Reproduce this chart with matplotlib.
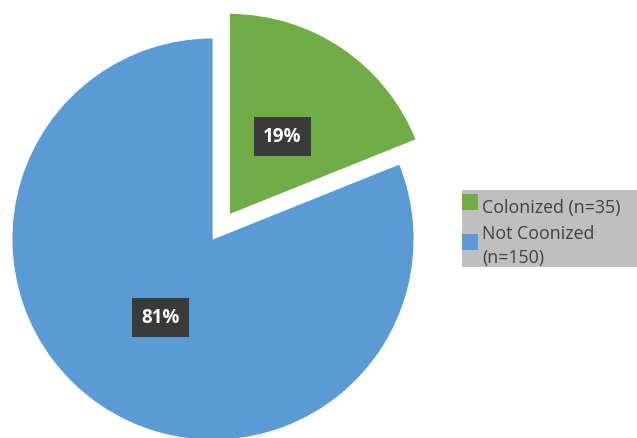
import matplotlib.pyplot as plt
from matplotlib.patches import Rectangle

labels = ["Colonized (n=35)", "Not Coonized\n(n=150)"]
counts = [35, 150]
colors = ["#70AD47", "#5B9BD5"]
explode = [0.147, 0.0]

W, H, R = 637, 439, 201.0   # pixels, radius of the pie in pixels
CX, CY = 213, 240           # centre of the pie (pixels from top-left)

fig = plt.figure(figsize=(W / 100, H / 100), dpi=100)
ax = fig.add_axes([0, 0, 1, 1])

wedges, texts, autotexts = ax.pie(
    counts, colors=colors, explode=explode, startangle=90, counterclock=False,
    autopct="%1.0f%%", pctdistance=0.47,
    wedgeprops=dict(edgecolor="white", linewidth=0.6),
    textprops=dict(color="white", fontsize=13.5, weight="bold", family="Open Sans"),
    frame=True)
ax.set_xlim(-CX / R, (W - CX) / R)
ax.set_ylim(-(H - CY) / R, CY / R)
ax.set_aspect("equal")
ax.axis("off")
for t in autotexts:
    t.set_bbox(dict(boxstyle="square,pad=0.5", fc="#3A3A3A", ec="none"))

def px(x, y):
    return (x - CX) / R, (CY - y) / R

# legend block drawn by hand (grey box on the right)
x0, y0 = px(462, 268)
ax.add_patch(Rectangle((x0, y0), (637 - 462) / R, (268 - 191) / R,
                       fc="#BFBFBF", ec="none", clip_on=False))
line_y = [[206], [232, 256]]   # centre of each text line, pixels
swatch_y = [195, 235]          # top of each swatch, pixels
for lab, col, ys, sy in zip(labels, colors, line_y, swatch_y):
    sx, syy = px(462, sy + 16)
    ax.add_patch(Rectangle((sx, syy), 16 / R, 16 / R, fc=col, ec="none"))
    for line, ly in zip(lab.split("\n"), ys):
        tx, ty = px(482, ly)
        ax.text(tx, ty, line, fontsize=12.8, color="#404040", family="Open Sans",
                va="center_baseline", ha="left")

fig.savefig("out.png", dpi=100)
